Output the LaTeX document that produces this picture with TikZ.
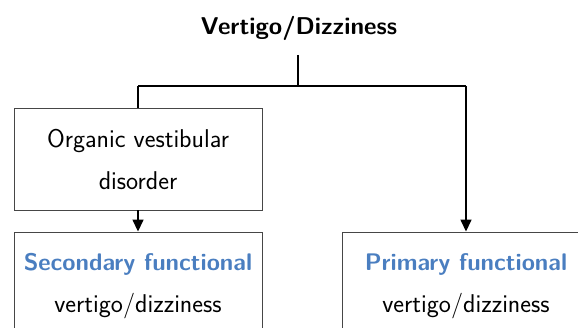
\documentclass[tikz,border=0pt]{standalone}
\usetikzlibrary{arrows.meta}
\definecolor{hlblue}{RGB}{74,126,192}
\definecolor{boxgray}{RGB}{70,70,70}
\begin{document}
\begin{tikzpicture}[x=1pt,y=-1pt,
  box/.style={draw=boxgray,line width=0.9pt,minimum width=248pt,minimum height=102pt,
    align=center,inner sep=0pt,font=\sffamily\fontsize{25.7}{42}\selectfont},
  lowbox/.style={box,minimum height=108pt},
  conn/.style={line width=1.5pt,black},
  arr/.style={conn,-{Triangle[width=11pt,length=12pt]}},
  hl/.style={font=\sffamily\bfseries\fontsize{24}{42}\selectfont,text=hlblue}]
\useasboundingbox (0,0) rectangle (578,328);
\clip (0,0) rectangle (578,328);
\node[font=\sffamily\bfseries\fontsize{24.3}{28}\selectfont,anchor=base] (top) at (299,35) {Vertigo/Dizziness};
\node[box] (org) at (138,159) {Organic vestibular\\disorder};
\node[lowbox] (sec) at (138,286) {{\bfseries\fontsize{24}{42}\selectfont\color{hlblue}Secondary functional}\\vertigo/dizziness};
\node[lowbox] (pri) at (466,286) {{\bfseries\fontsize{24}{42}\selectfont\color{hlblue}Primary functional}\\vertigo/dizziness};
\coordinate (j) at (298,86);
\coordinate (jl) at (org.north |- j);
\coordinate (jr) at (pri.north |- j);
\draw[conn] (298,55) coordinate (ts) -- (j);
\draw[conn] (jl) -- (jr);
\draw[conn] (jl) -- (org.north);
\draw[arr] (jr) -- (pri.north);
\draw[arr] (org.south) -- (sec.north);
\end{tikzpicture}
\end{document}
